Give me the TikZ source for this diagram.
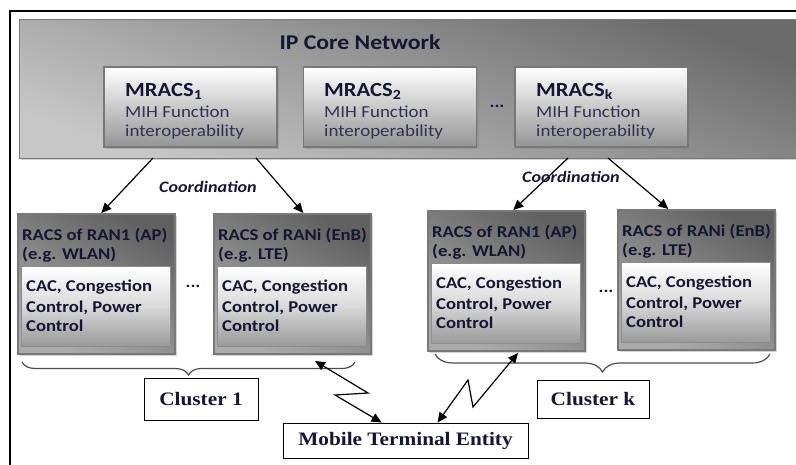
\documentclass[tikz,border=0pt]{standalone}
\usepackage{fontspec}
\setmainfont[FakeStretch=1.13]{Carlito}
\newfontfamily\clfont[FakeStretch=1.12]{Liberation Serif}
\usetikzlibrary{arrows.meta,shadows,decorations.pathreplacing,calc}
\definecolor{txt}{RGB}{22,22,50}
\definecolor{txtb}{RGB}{50,50,80}
\definecolor{bord}{RGB}{120,120,120}
\tikzset{
 shd/.style={drop shadow={shadow xshift=2pt,shadow yshift=-2pt,opacity=0.35}},
 corebox/.style={draw=bord, line width=1pt, top color=black!58, bottom color=black!22, shading angle=-20, shd, minimum width=781pt, minimum height=139pt, inner sep=0pt},
 mracsbox/.style={draw=bord, line width=1.6pt, top color=white, bottom color=black!42, shd, minimum width=173pt, minimum height=80pt, inner sep=0pt},
 racsbox/.style={draw=bord, line width=1.6pt, top color=black!62, bottom color=black!33, shading angle=-30, shd, minimum width=157pt, minimum height=140pt, inner sep=0pt, anchor=north west},
 innerbox/.style={draw=black!45, line width=0.8pt, top color=white, bottom color=black!40, middle color=white!85!black, minimum width=149pt, minimum height=80pt, inner sep=0pt, anchor=north west},
 ttl/.style={font=\bfseries\fontsize{21}{24}\selectfont, text=txt, inner sep=0pt},
 mhead/.style={font=\bfseries\fontsize{20}{22}\selectfont, text=txt, inner sep=0pt, anchor=base west},
 mtext/.style={font=\fontsize{16.8}{19}\selectfont, text=txtb, inner sep=0pt, anchor=base west},
 rtext/.style={font=\bfseries\fontsize{16.5}{19}\selectfont, text=txt, inner sep=0pt, anchor=base west},
 coordlbl/.style={font=\bfseries\itshape\fontsize{16}{18}\selectfont, text=txt, inner sep=0pt},
 clbox/.style={draw=black, line width=0.9pt, fill=white, font=\clfont\bfseries\fontsize{19}{21}\selectfont, text=txt, inner sep=0pt},
 arr/.style={line width=1.2pt, -{Triangle[length=10pt,width=9pt]}},
 darr/.style={line width=1.2pt, {Triangle[length=10pt,width=9pt]}-{Triangle[length=10pt,width=9pt]}},
 brc/.style={draw=black!70, line width=1.2pt, decorate, decoration={brace, mirror, amplitude=13pt}},
 dotslbl/.style={font=\bfseries\fontsize{16.5}{19}\selectfont, text=txt, inner sep=0pt}
}
\newcommand\racsgroup[5]{%
 \node[racsbox] (#1) at (#2,#3) {};
 \node[innerbox] (#1in) at ($(#1.north west)+(4,53)$) {};
 \node[rtext] (#1ha) at ($(#1.north west)+(5,27)$) {#4};
 \node[rtext] (#1hb) at ($(#1.north west)+(5,46)$) {#5};
 \node[rtext] (#1ca) at ($(#1.north west)+(9,78)$) {CAC, Congestion};
 \node[rtext] (#1cb) at ($(#1.north west)+(9,99)$) {Control, Power};
 \node[rtext] (#1cc) at ($(#1.north west)+(9,118)$) {Control};
}
\begin{document}
\begin{tikzpicture}[x=1pt,y=-1pt]
\useasboundingbox (0,0) rectangle (796,464);
\begin{scope}
\clip (0,0) rectangle (796,464);
\draw[line width=1.1pt] (10,11) rectangle (820,490);
\node[corebox] (core) at (409.5,88.5) {};
\end{scope}
\node[ttl] (title) at (360,42) {IP Core Network};
% MRACS boxes
\node[mracsbox] (m1) at (190.5,107) {};
\node[mracsbox] (m2) at (390,107) {};
\node[mracsbox] (mk) at (601.5,107) {};
\node[mhead] (m1a) at (125,96) {MRACS\textsubscript{1}};
\node[mtext] (m1b) at (125,117) {MIH Function};
\node[mtext] (m1c) at (125,136) {interoperability};
\node[mhead] (m2a) at (324,96) {MRACS\textsubscript{2}};
\node[mtext] (m2b) at (324,117) {MIH Function};
\node[mtext] (m2c) at (324,136) {interoperability};
\node[mhead] (mka) at (536,96) {MRACS\textsubscript{k}};
\node[mtext] (mkb) at (536,117) {MIH Function};
\node[mtext] (mkc) at (536,136) {interoperability};
\node[dotslbl] (mdots) at (497,106) {...};
% RACS boxes
\racsgroup{r11}{17}{213}{RACS of RAN1 (AP)}{(e.g. WLAN)}
\racsgroup{r12}{213}{213}{RACS of RANi (EnB)}{(e.g. LTE)}
\racsgroup{rk1}{427}{210}{RACS of RAN1 (AP)}{(e.g. WLAN)}
\racsgroup{rk2}{617}{209}{RACS of RANi (EnB)}{(e.g. LTE)}
\node[dotslbl] (d1) at (193,286) {...};
\node[dotslbl] (dk) at (606,291) {...};
% coordination arrows
\coordinate (s1) at (153,158);
\coordinate (s2) at (256,158);
\coordinate (s3) at (568,158);
\coordinate (s4) at (608,158);
\draw[arr] (s1) -- ($(r11.north)+(5,0)$);
\draw[arr] (s2) -- ($(r12.north)+(11,0)$);
\draw[arr] (s3) -- ($(rk1.north)+(7,0)$);
\draw[arr] (s4) -- ($(rk2.north)+(-28,0)$);
\node[coordlbl] (co1) at (208,187) {Coordination};
\node[coordlbl] (co2) at (571,177) {Coordination};
% braces
\coordinate (b1a) at (22,362);
\coordinate (b1b) at (355,362);
\coordinate (bka) at (435,354);
\coordinate (bkb) at (770,354);
\draw[brc] (b1a) -- (b1b);
\draw[brc, decoration={brace, mirror, amplitude=18pt}] (bka) -- (bkb);
% cluster labels
\node[clbox, minimum width=114pt, minimum height=42pt] (cl1) at (201,399) {Cluster 1};
\node[clbox, minimum width=112pt, minimum height=38pt] (clk) at (593,399) {Cluster k};
\node[clbox, minimum width=245pt, minimum height=35pt] (mte) at (405.5,440.5) {Mobile Terminal Entity};
% wireless links
\coordinate (w1) at (315,361);
\coordinate (w2) at (518,353);
\draw[darr] (w1) -- (368,393) -- (335,395) -- ($(mte.north west)+(99,0)$);
\draw[darr] (w2) -- (473,407) -- (468,380) -- ($(mte.north west)+(155,0)$);
\end{tikzpicture}
\end{document}
